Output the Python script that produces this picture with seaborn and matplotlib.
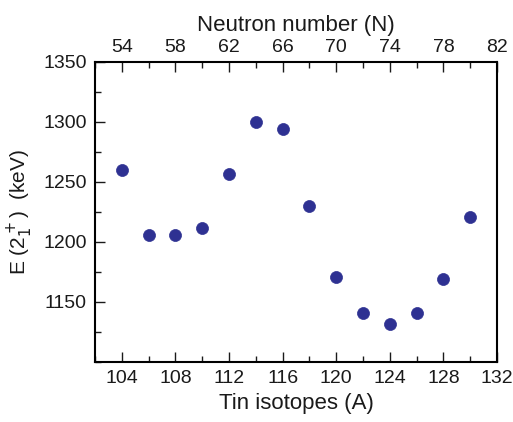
import matplotlib
matplotlib.use("Agg")
import matplotlib.pyplot as plt
import seaborn as sns
import pandas as pd
from matplotlib.ticker import MultipleLocator

mass_number = [104, 106, 108, 110, 112, 114, 116, 118, 120, 122, 124, 126, 128, 130]
energy_kev = [1260, 1206, 1206, 1212, 1257, 1300, 1294, 1230, 1171, 1141, 1132, 1141, 1169, 1221]
neutron_ticks = [54, 58, 62, 66, 70, 74, 78, 82]

df = pd.DataFrame({"A": mass_number, "E": energy_kev})

sns.set_theme(style="ticks", rc={"text.color": "#1a1a1a", "axes.labelcolor": "#1a1a1a",
                                 "xtick.color": "#1a1a1a", "ytick.color": "#1a1a1a"})
plt.rcParams['font.family'] = ['Liberation Sans', 'DejaVu Sans']

fig = plt.figure(figsize=(5.13, 4.22), dpi=100)
ax = fig.add_axes([95 / 513, 1 - 362 / 422, 402 / 513, 300 / 422])

sns.scatterplot(data=df, x="A", y="E", ax=ax, color="#2e3192", s=75,
                edgecolor="#2e3192", linewidth=0.5, zorder=3)

ax.set_xlim(102, 132)
ax.set_ylim(1100, 1350)
ax.xaxis.set_major_locator(MultipleLocator(4))
ax.xaxis.set_minor_locator(MultipleLocator(2))
ax.set_yticks([1150, 1200, 1250, 1300, 1350])
ax.yaxis.set_minor_locator(MultipleLocator(25))
ax.tick_params(which="major", direction="in", length=7, width=1, labelsize=14, pad=6)
ax.tick_params(which="minor", direction="in", length=4, width=1)
ax.set_xlabel("Tin isotopes (A)", fontsize=16, labelpad=4)
ax.set_ylabel(r"E (2$^+_1$)  (keV)", fontsize=15, labelpad=6)
for sp in ax.spines.values():
    sp.set_linewidth(1.5)
    sp.set_color("black")

top = ax.secondary_xaxis("top", functions=(lambda a: a - 50, lambda n: n + 50))
top.set_xticks(neutron_ticks)
top.xaxis.set_minor_locator(MultipleLocator(2))
top.tick_params(which="major", direction="in", length=7, width=1, labelsize=14, pad=4)
top.tick_params(which="minor", direction="in", length=4, width=1)
top.set_xlabel("Neutron number (N)", fontsize=16, labelpad=6)

fig.savefig("out.png", dpi=100)
